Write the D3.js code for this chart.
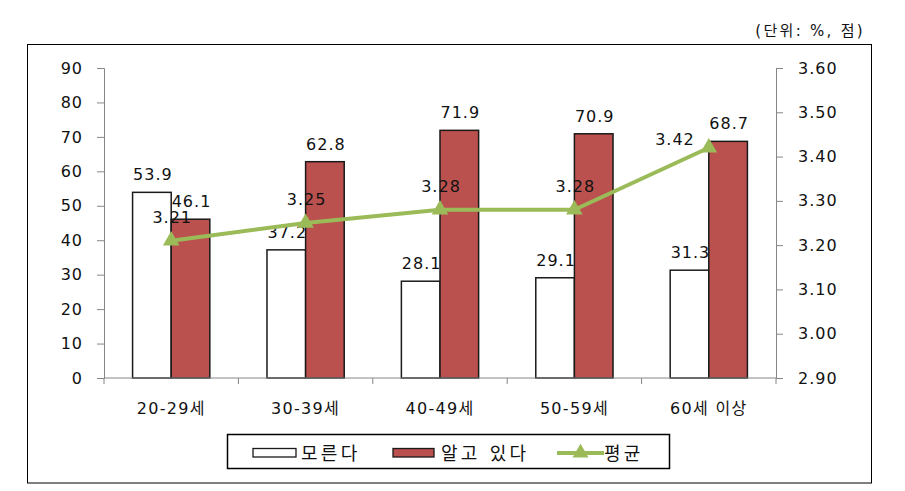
<!DOCTYPE html>
<html>
<head>
<meta charset="utf-8">
<script src="https://cdn.jsdelivr.net/npm/d3@7"></script>
<style>
  html, body { margin: 0; padding: 0; background: #fff; }
  svg text { font-family: "DejaVu Sans", "Noto Sans CJK KR", sans-serif; fill: #111; }
</style>
</head>
<body>
<svg id="chart" width="905" height="491"></svg>
<script>
const categories = ["20-29세", "30-39세", "40-49세", "50-59세", "60세 이상"];
const seriesNames = ["모른다", "알고 있다"];
const dontKnow = [53.9, 37.2, 28.1, 29.1, 31.3];
const know = [46.1, 62.8, 71.9, 70.9, 68.7];
const average = [3.21, 3.25, 3.28, 3.28, 3.42];
const lineName = "평균";
const leftTicks = [0, 10, 20, 30, 40, 50, 60, 70, 80, 90];
const rightTicks = [2.9, 3.0, 3.1, 3.2, 3.3, 3.4, 3.5, 3.6];
const unitText = "(단위: %, 점)";

const svg = d3.select("#chart");
const plot = { left: 104, right: 776, top: 68, bottom: 378 };
const fills = ["#ffffff", "#BA514E"];
const green = "#9BBB59";
const axisColor = "#868686";
const numStyle = { size: "16px", ls: "1px" };

// outer frame
svg.append("rect").attr("x", 27.5).attr("y", 44.5).attr("width", 844).attr("height", 438.5)
  .attr("fill", "none").attr("stroke", "#000").attr("stroke-width", 1);

svg.append("text").attr("x", 865).attr("y", 36).attr("text-anchor", "end")
  .style("font-size", "15px").style("letter-spacing", "2.3px").text(unitText);

const x = d3.scaleBand().domain(categories).range([plot.left, plot.right]);
const xs = d3.scaleBand().domain(seriesNames).range([0, x.bandwidth()]).paddingOuter(0.74);
const yL = d3.scaleLinear().domain([0, 90]).range([plot.bottom, plot.top]);
const yR = d3.scaleLinear().domain([2.9, 3.6]).range([plot.bottom, plot.top]);

// left axis
const gL = svg.append("g").attr("transform", `translate(${plot.left},0)`)
  .call(d3.axisLeft(yL).tickValues(leftTicks).tickSize(7).tickPadding(14).tickFormat(d3.format("d")));
// right axis
const gR = svg.append("g").attr("transform", `translate(${plot.right},0)`)
  .call(d3.axisRight(yR).tickValues(rightTicks).tickSize(7).tickPadding(15).tickFormat(d3.format(".2f")));
[gL, gR].forEach(g => {
  g.select(".domain").attr("stroke", axisColor);
  g.selectAll(".tick line").attr("stroke", axisColor);
  g.selectAll(".tick text").attr("fill", "#111")
    .style("font-family", '"DejaVu Sans", sans-serif')
    .style("font-size", numStyle.size).style("letter-spacing", numStyle.ls);
});

// bars
const groups = svg.append("g").selectAll("g").data(categories).join("g")
  .attr("transform", d => `translate(${x(d)},0)`);
const seriesData = [dontKnow, know];
groups.each(function(c, i) {
  const g = d3.select(this);
  seriesNames.forEach((s, j) => {
    const v = seriesData[j][i];
    g.append("rect")
      .attr("x", xs(s)).attr("y", yL(v))
      .attr("width", xs.bandwidth()).attr("height", yL(0) - yL(v))
      .attr("fill", fills[j]).attr("stroke", "#1a1a1a").attr("stroke-width", 1.5);
  });
});

// bottom axis
svg.append("line").attr("x1", plot.left).attr("x2", plot.right)
  .attr("y1", yL(0)).attr("y2", yL(0)).attr("stroke", axisColor);
const bounds = categories.map(c => x(c)).concat([x(categories[categories.length - 1]) + x.bandwidth()]);
svg.append("g").selectAll("line").data(bounds).join("line")
  .attr("x1", d => d).attr("x2", d => d).attr("y1", yL(0)).attr("y2", yL(0) + 6)
  .attr("stroke", axisColor);
svg.append("g").selectAll("text").data(categories).join("text")
  .attr("x", d => x(d) + x.bandwidth() / 2).attr("y", 414)
  .attr("text-anchor", "middle")
  .style("font-size", "16px").style("letter-spacing", "1.3px")
  .text(d => d);

// bar labels
groups.each(function(c, i) {
  const g = d3.select(this);
  seriesNames.forEach((s, j) => {
    const v = seriesData[j][i];
    g.append("text")
      .attr("x", xs(s) + xs.bandwidth() / 2 + 1).attr("y", yL(v) - 12)
      .attr("text-anchor", "middle")
      .style("font-size", numStyle.size).style("letter-spacing", numStyle.ls)
      .text(d3.format(".1f")(v));
  });
});

// line
const cx = i => x(categories[i]) + x.bandwidth() / 2;
svg.append("path").datum(average)
  .attr("d", d3.line().x((d, i) => cx(i)).y(d => yR(d)))
  .attr("fill", "none").attr("stroke", green).attr("stroke-width", 4).attr("stroke-linejoin", "round");
svg.append("g").selectAll("path").data(average).join("path")
  .attr("transform", (d, i) => `translate(${cx(i)},${yR(d)})`)
  .attr("d", d3.symbol().type(d3.symbolTriangle).size(120))
  .attr("fill", green);
svg.append("g").selectAll("text").data(average).join("text")
  .attr("x", (d, i) => i === average.length - 1 ? cx(i) - 14 : cx(i) + 1)
  .attr("y", (d, i) => i === average.length - 1 ? yR(d) - 3 : yR(d) - 18)
  .attr("text-anchor", (d, i) => i === average.length - 1 ? "end" : "middle")
  .style("font-size", numStyle.size).style("letter-spacing", numStyle.ls)
  .text(d => d3.format(".2f")(d));

// legend
svg.append("rect").attr("x", 227.5).attr("y", 434.5).attr("width", 442).attr("height", 34)
  .attr("fill", "#fff").attr("stroke", "#000").attr("stroke-width", 1.5);
const legY = 453;
const legItems = [
  { name: seriesNames[0], type: "rect", fill: fills[0], x0: 253, x1: 296, tx: 301 },
  { name: seriesNames[1], type: "rect", fill: fills[1], x0: 393, x1: 434, tx: 441 },
  { name: lineName, type: "line", x0: 557, x1: 604, tx: 604 }
];
legItems.forEach(it => {
  if (it.type === "rect") {
    svg.append("rect").attr("x", it.x0).attr("y", legY - 4.5).attr("width", it.x1 - it.x0).attr("height", 8.5)
      .attr("fill", it.fill).attr("stroke", "#1a1a1a").attr("stroke-width", 1.3);
  } else {
    svg.append("line").attr("x1", it.x0).attr("x2", it.x1).attr("y1", legY).attr("y2", legY)
      .attr("stroke", green).attr("stroke-width", 4);
    svg.append("path").attr("transform", `translate(${(it.x0 + it.x1) / 2},${legY})`)
      .attr("d", d3.symbol().type(d3.symbolTriangle).size(110)).attr("fill", green);
  }
  svg.append("text").attr("x", it.tx).attr("y", legY + 7)
    .style("font-size", "18px").style("letter-spacing", "3.3px")
    .text(it.name);
});
</script>
</body>
</html>
